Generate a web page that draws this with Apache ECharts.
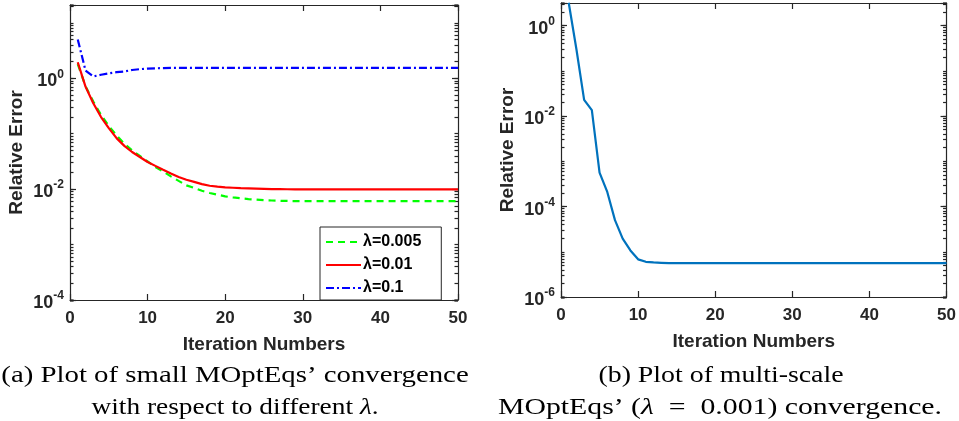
<!DOCTYPE html>
<html><head><meta charset="utf-8">
<script src="https://cdn.jsdelivr.net/npm/echarts@6/dist/echarts.min.js"></script>
<style>html,body{margin:0;padding:0;background:#fff}#c{width:959px;height:421px}</style>
</head><body><div id="c"></div>
<script>
const iterations = [1,2,3,4,5,6,7,8,9,10,11,12,13,14,15,16,17,18,19,20,21,22,23,24,25,26,27,28,29,30,31,32,33,34,35,36,37,38,39,40,41,42,43,44,45,46,47,48,49,50];
const err005 = [1.8,0.72,0.38,0.219,0.138,0.0933,0.0661,0.0501,0.0398,0.0316,0.0251,0.0209,0.0170,0.0141,0.0117,0.0105,0.00933,0.00851,0.00794,0.00741,0.00708,0.00684,0.00661,0.00646,0.00631,0.00624,0.00617,0.00612,0.00609,0.00608,0.00608,0.00608,0.00608,0.00608,0.00608,0.00608,0.00608,0.00608,0.00608,0.00608,0.00608,0.00608,0.00608,0.00608,0.00608,0.00608,0.00608,0.00608,0.00608,0.00608];
const err01 = [1.95,0.708,0.355,0.200,0.126,0.0832,0.0603,0.0468,0.0380,0.0309,0.0263,0.0224,0.0191,0.0166,0.0148,0.0135,0.0123,0.0115,0.0111,0.0108,0.0106,0.0104,0.0103,0.0102,0.0101,0.0100,0.00998,0.00995,0.00993,0.00992,0.00991,0.00991,0.0099,0.0099,0.0099,0.0099,0.0099,0.0099,0.0099,0.0099,0.0099,0.0099,0.0099,0.0099,0.0099,0.0099,0.0099,0.0099,0.0099,0.0099];
const err1 = [5.0,1.38,1.08,1.16,1.23,1.29,1.33,1.41,1.46,1.50,1.51,1.53,1.54,1.54,1.54,1.54,1.54,1.54,1.54,1.54,1.54,1.54,1.54,1.54,1.54,1.54,1.54,1.54,1.54,1.54,1.54,1.54,1.54,1.54,1.54,1.54,1.54,1.54,1.54,1.54,1.54,1.54,1.54,1.54,1.54,1.54,1.54,1.54,1.54,1.54];
const errMulti = [3.2,0.3,0.0229,0.0135,5.6e-4,2.1e-4,5.0e-5,1.95e-5,1.07e-5,6.8e-6,6.0e-6,5.8e-6,5.7e-6,5.6e-6,5.6e-6,5.6e-6,5.6e-6,5.6e-6,5.6e-6,5.6e-6,5.6e-6,5.6e-6,5.6e-6,5.6e-6,5.6e-6,5.6e-6,5.6e-6,5.6e-6,5.6e-6,5.6e-6,5.6e-6,5.6e-6,5.6e-6,5.6e-6,5.6e-6,5.6e-6,5.6e-6,5.6e-6,5.6e-6,5.6e-6,5.6e-6,5.6e-6,5.6e-6,5.6e-6,5.6e-6,5.6e-6,5.6e-6,5.6e-6,5.6e-6,5.6e-6];
const seriesNames = ['λ=0.005', 'λ=0.01', 'λ=0.1'];
const xTickMin = 0, xTickMax = 50, xTickStep = 10;
const leftYRange = [1e-4, 21];
const rightYRange = [1e-6, 3.16];
const minorMultipliers = [2,3,4,5,6,7,8,9,10];
const xName = 'Iteration Numbers';
const yName = 'Relative Error';

const AX = '#262626';
const SANS = '"Liberation Sans", Arial, sans-serif';
const SERIF = '"Liberation Serif", "DejaVu Serif", serif';

function supFmt(v) {
  const l = Math.log10(v);
  const e = Math.round(l);
  if (Math.abs(l - e) > 1e-6) return '';
  return '{b|10}{s|' + e + '}';
}
const supRich = {
  b: { fontSize: 18, fontWeight: 'bold', fontFamily: SANS, color: AX, lineHeight: 24, verticalAlign: 'bottom' },
  s: { fontSize: 12, fontWeight: 'bold', fontFamily: SANS, color: AX, lineHeight: 24, verticalAlign: 'top', padding: [2,0,0,0] }
};
const tickStyle = { color: AX, width: 1.2 };

function xAxes(gi) {
  return [
    { type: 'value', gridIndex: gi, position: 'bottom', min: xTickMin, max: xTickMax, interval: xTickStep,
      axisLine: { show: true, onZero: false, lineStyle: { color: AX, width: 1.2 } },
      axisTick: { show: true, inside: true, length: 6, lineStyle: tickStyle },
      axisLabel: { show: true, margin: 10, fontSize: 17, fontWeight: 'bold', fontFamily: SANS, color: AX },
      splitLine: { show: false },
      name: xName, nameLocation: 'middle', nameGap: 35,
      nameTextStyle: { fontSize: 19, fontWeight: 'bold', fontFamily: SANS, color: AX } },
    { type: 'value', gridIndex: gi, position: 'top', min: xTickMin, max: xTickMax, interval: xTickStep,
      axisLine: { show: true, onZero: false, lineStyle: { color: AX, width: 1.2 } },
      axisTick: { show: true, inside: true, length: 6, lineStyle: tickStyle },
      axisLabel: { show: false }, splitLine: { show: false } }
  ];
}
function yAxes(gi, range) {
  const main = [
    { type: 'log', logBase: 100, gridIndex: gi, position: 'left', min: range[0], max: range[1],
      axisLine: { show: true, onZero: false, lineStyle: { color: AX, width: 1.2 } },
      axisTick: { show: true, inside: true, length: 6, lineStyle: tickStyle },
      axisLabel: { show: true, margin: 6, formatter: supFmt, rich: supRich },
      splitLine: { show: false },
      name: yName, nameLocation: 'middle', nameGap: 44, nameRotate: 90,
      nameTextStyle: { fontSize: 19, fontWeight: 'bold', fontFamily: SANS, color: AX } },
    { type: 'log', logBase: 100, gridIndex: gi, position: 'right', min: range[0], max: range[1],
      axisLine: { show: true, onZero: false, lineStyle: { color: AX, width: 1.2 } },
      axisTick: { show: true, inside: true, length: 6, lineStyle: tickStyle },
      axisLabel: { show: false }, splitLine: { show: false } }
  ];
  const minors = [];
  ['left', 'right'].forEach(pos => {
    minorMultipliers.forEach(m => {
      minors.push({ type: 'log', logBase: 10, gridIndex: gi, position: pos, min: range[0] / m, max: range[1] / m,
        axisLine: { show: false }, axisLabel: { show: false }, splitLine: { show: false },
        axisTick: { show: true, inside: true, length: 3.5, lineStyle: tickStyle }, silent: true });
    });
  });
  return { main, minors };
}
const yL = yAxes(0, leftYRange);
const yR = yAxes(1, rightYRange);
const yAxisList = [].concat(yL.main, yR.main, yL.minors, yR.minors);

function pairs(arr) { return iterations.map((x, i) => [x, arr[i]]); }

const capFont = '24px ' + SERIF;
const capItal = 'italic 24px ' + SERIF;

const chart = echarts.init(document.getElementById('c'), null, { renderer: 'canvas' });
chart.setOption({
  animation: false,
  backgroundColor: '#fff',
  grid: [
    { left: 70, right: 501, top: 5, bottom: 121, containLabel: false },
    { left: 561, right: 10, top: 3, bottom: 124, containLabel: false }
  ],
  xAxis: [].concat(xAxes(0), xAxes(1)),
  yAxis: yAxisList,
  legend: {
    orient: 'vertical', left: 320, top: 227,
    padding: [7, 20, 4, 5], itemWidth: 35, itemHeight: 14, itemGap: 7,
    backgroundColor: '#fff', borderColor: AX, borderWidth: 1,
    itemStyle: { opacity: 0 },
    textStyle: { fontSize: 16, fontWeight: 'bold', fontFamily: SANS, color: '#000', padding: [0,0,0,-3] },
    data: seriesNames
  },
  series: [
    { name: seriesNames[0], type: 'line', xAxisIndex: 0, yAxisIndex: 0, symbol: 'none', data: pairs(err005),
      lineStyle: { color: '#00ff00', width: 2.2, type: [7, 5] }, itemStyle: { color: '#00ff00' } },
    { name: seriesNames[1], type: 'line', xAxisIndex: 0, yAxisIndex: 0, symbol: 'none', data: pairs(err01),
      lineStyle: { color: '#ff0000', width: 2.2 }, itemStyle: { color: '#ff0000' } },
    { name: seriesNames[2], type: 'line', xAxisIndex: 0, yAxisIndex: 0, symbol: 'none', data: pairs(err1),
      lineStyle: { color: '#0000ff', width: 2.2, type: [8, 3, 2, 3] }, itemStyle: { color: '#0000ff' } },
    { name: 'multi', type: 'line', xAxisIndex: 2, yAxisIndex: 2, symbol: 'none', data: pairs(errMulti),
      lineStyle: { color: '#0072BD', width: 2.2 }, itemStyle: { color: '#0072BD' } }
  ],
  graphic: [
    { type: 'text', x: 235, y: 376, scaleX: 1.2, style: { text: '(a) Plot of small MOptEqs\u2019 convergence',
      font: capFont, fill: '#000', textAlign: 'center', textVerticalAlign: 'middle' } },
    { type: 'text', x: 235, y: 408, scaleX: 1.14, style: { text: '{r|with respect to different }{i|λ}{r|.}',
      rich: { r: { font: capFont, fill: '#000' }, i: { font: capItal, fill: '#000' } },
      textAlign: 'center', textVerticalAlign: 'middle' } },
    { type: 'text', x: 721, y: 376, scaleX: 1.16, style: { text: '(b) Plot of multi-scale',
      font: capFont, fill: '#000', textAlign: 'center', textVerticalAlign: 'middle' } },
    { type: 'text', x: 720, y: 408, scaleX: 1.24, style: { text: '{r|MOptEqs\u2019 (}{i|λ}{r|\u2002=\u20020.001) convergence.}',
      rich: { r: { font: capFont, fill: '#000' }, i: { font: capItal, fill: '#000' } },
      textAlign: 'center', textVerticalAlign: 'middle' } }
  ]
});
</script></body></html>
